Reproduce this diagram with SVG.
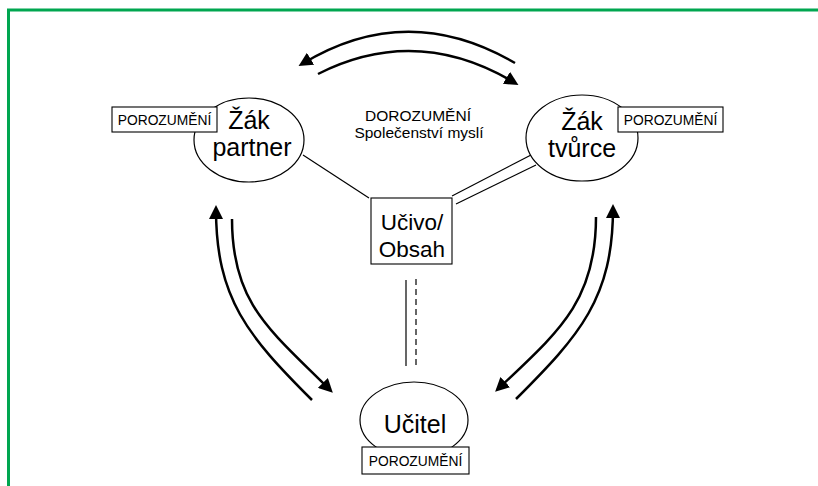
<svg xmlns="http://www.w3.org/2000/svg" width="818" height="486" viewBox="0 0 818 486">
<style>
  .bg { fill: #ffffff; }
  .frame { fill: none; stroke: #00A650; stroke-width: 3; }
  .ell { fill: #ffffff; stroke: #000; stroke-width: 1.2; }
  .box { fill: #ffffff; stroke: #000; stroke-width: 1.1; }
  .big { font-family: "Liberation Sans", Arial, sans-serif; font-size: 25px; fill: #000; text-anchor: middle; }
  .box-big { font-family: "Liberation Sans", Arial, sans-serif; font-size: 22.5px; fill: #000; text-anchor: middle; }
  .small { font-family: "Liberation Sans", Arial, sans-serif; font-size: 13.8px; fill: #000; text-anchor: middle; }
  .mid { font-family: "Liberation Sans", Arial, sans-serif; font-size: 15.5px; fill: #000; text-anchor: middle; }
  .ln { fill: none; stroke: #000; stroke-width: 1.2; }
  .dash { fill: none; stroke: #000; stroke-width: 1.2; stroke-dasharray: 6 4; }
  .arc { fill: none; stroke: #000; stroke-width: 2.5; marker-end: url(#ah); }
</style>
<defs>
  <marker id="ah" markerUnits="userSpaceOnUse" markerWidth="16" markerHeight="14" viewBox="0 0 16 14" refX="10" refY="7" orient="auto">
    <path d="M0,0 L14,7 L0,14 z" fill="#000"/>
  </marker>
</defs>
<rect class="bg" x="0" y="0" width="818" height="486"/>
<path class="frame" d="M8.5,486 V10 H818"/>

<g id="connectors">
  <line class="ln" x1="303" y1="155" x2="369" y2="198"/>
  <line class="ln" x1="452" y1="196" x2="531" y2="155"/>
  <line class="ln" x1="456" y1="204" x2="536" y2="165"/>
  <line class="ln" x1="406" y1="280" x2="406" y2="366"/>
  <line class="dash" x1="416" y1="279" x2="416" y2="366"/>
  <path class="arc" d="M515,63 Q407,0 302,64"/>
  <path class="arc" d="M318,74 Q417,24 515,83"/>
  <path class="arc" d="M312,400 C248,336 216,299 216,209"/>
  <path class="arc" d="M232,219 C232,304 270,330 330,390"/>
  <path class="arc" d="M516,399 C580,335 613,298 613,208"/>
  <path class="arc" d="M596,217 C596,302 558,332 498,389"/>
</g>

<g id="dorozumeni">
  <text class="mid" x="418" y="121">DOROZUMĚNÍ</text>
  <text class="mid" x="419" y="138">Společenství myslí</text>
</g>

<g id="zak-partner">
  <ellipse class="ell" cx="249" cy="140" rx="55" ry="42"/>
  <text class="big" x="249" y="129">Žák</text>
  <text class="big" x="252" y="156">partner</text>
  <rect class="box" x="112" y="107" width="105" height="25"/>
  <text class="small" x="164.5" y="124.5">POROZUMĚNÍ</text>
</g>

<g id="zak-tvurce">
  <ellipse class="ell" cx="582" cy="138" rx="56" ry="43"/>
  <text class="big" x="582" y="130">Žák</text>
  <text class="big" x="582" y="157">tvůrce</text>
  <rect class="box" x="618" y="107" width="105" height="25"/>
  <text class="small" x="670.5" y="124.5">POROZUMĚNÍ</text>
</g>

<g id="ucivo">
  <rect class="box" x="371" y="198" width="81" height="66"/>
  <text class="box-big" x="412" y="230">Učivo/</text>
  <text class="box-big" x="412" y="257">Obsah</text>
</g>

<g id="ucitel">
  <ellipse class="ell" cx="414" cy="420" rx="54" ry="38"/>
  <text class="big" x="415" y="433">Učitel</text>
  <rect class="box" x="362" y="447" width="107" height="27"/>
  <text class="small" x="415.5" y="465.5">POROZUMĚNÍ</text>
</g>
</svg>
